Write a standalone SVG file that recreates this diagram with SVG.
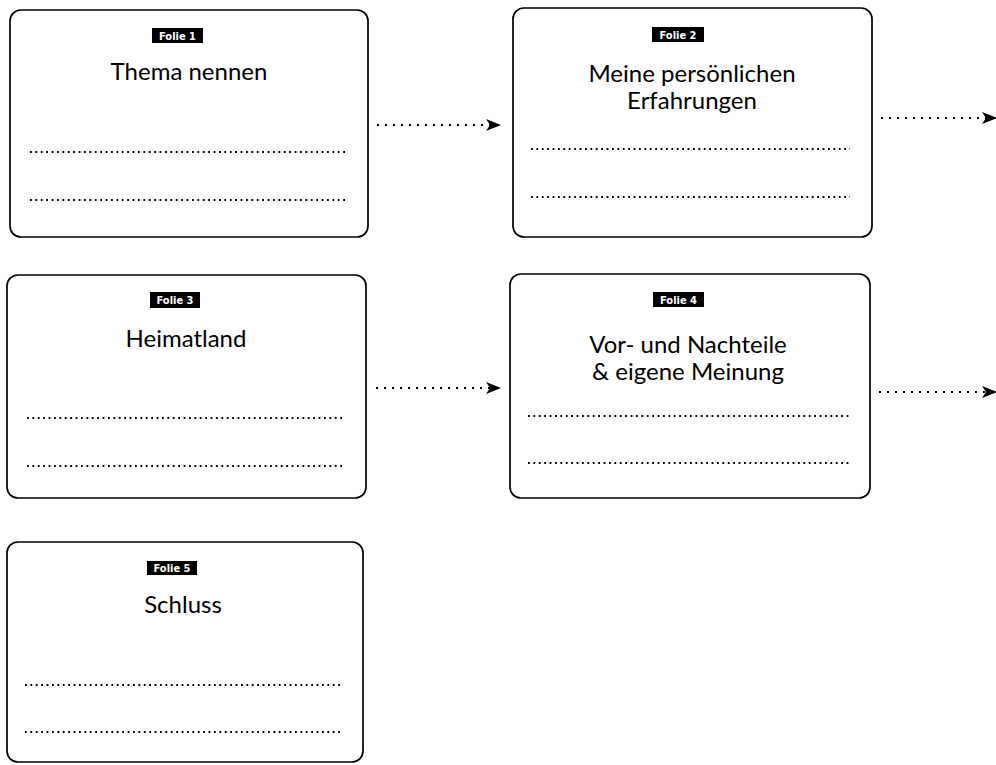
<svg xmlns="http://www.w3.org/2000/svg" width="996" height="765" viewBox="0 0 996 765">
<defs>
<marker id="ah" viewBox="0 0 15 12" refX="14" refY="6" markerWidth="15" markerHeight="12" markerUnits="userSpaceOnUse" orient="auto">
<path d="M0,0 L15,6 L0,12 L4,6 Z" fill="#000"/>
</marker>
<style>
.box{fill:#fff;stroke:#000;stroke-width:1.7}
.badge{fill:#000}
.bt{font-family:"DejaVu Sans Condensed","DejaVu Sans",sans-serif;font-weight:bold;font-size:11px;fill:#fff;text-anchor:middle}
.tt{font-family:Lato,"Open Sans",sans-serif;font-size:24px;fill:#000;text-anchor:middle}
.dl{stroke:#000;stroke-width:1.8;stroke-dasharray:1.8 3.6;fill:none}
.ar{stroke:#000;stroke-width:2;stroke-dasharray:2 6;fill:none}
</style>
</defs>
<g id="folie1">
<rect class="box" x="10" y="10" width="358" height="227" rx="11"/>
<rect class="badge" x="152" y="28" width="51" height="15"/>
<text class="bt" x="177.5" y="40">Folie 1</text>
<text class="tt" x="189" y="80">Thema nennen</text>
<line class="dl" x1="30" y1="152" x2="348" y2="152"/>
<line class="dl" x1="30" y1="200" x2="348" y2="200"/>
</g>
<g id="folie2">
<rect class="box" x="513" y="8" width="359" height="229" rx="11"/>
<rect class="badge" x="652" y="27" width="52" height="15"/>
<text class="bt" x="678" y="39">Folie 2</text>
<text class="tt" x="692" y="82">Meine persönlichen</text>
<text class="tt" x="692" y="109">Erfahrungen</text>
<line class="dl" x1="531" y1="149" x2="850" y2="149"/>
<line class="dl" x1="531" y1="197" x2="850" y2="197"/>
</g>
<g id="folie3">
<rect class="box" x="7" y="275" width="359" height="223" rx="11"/>
<rect class="badge" x="150" y="292" width="50" height="16"/>
<text class="bt" x="175" y="304">Folie 3</text>
<text class="tt" x="186" y="347">Heimatland</text>
<line class="dl" x1="27" y1="418" x2="345" y2="418"/>
<line class="dl" x1="27" y1="466" x2="345" y2="466"/>
</g>
<g id="folie4">
<rect class="box" x="510" y="274" width="360" height="224" rx="11"/>
<rect class="badge" x="653" y="292" width="51" height="15"/>
<text class="bt" x="678.5" y="304">Folie 4</text>
<text class="tt" x="688" y="353">Vor- und Nachteile</text>
<text class="tt" x="688" y="380">&amp; eigene Meinung</text>
<line class="dl" x1="528" y1="416" x2="849" y2="416"/>
<line class="dl" x1="528" y1="463" x2="849" y2="463"/>
</g>
<g id="folie5">
<rect class="box" x="7" y="542" width="356" height="220" rx="11"/>
<rect class="badge" x="147" y="561" width="50" height="14"/>
<text class="bt" x="172" y="572">Folie 5</text>
<text class="tt" x="183" y="613">Schluss</text>
<line class="dl" x1="25" y1="685" x2="343" y2="685"/>
<line class="dl" x1="25" y1="732" x2="343" y2="732"/>
</g>
<g id="connectors">
<line class="ar" x1="377" y1="125" x2="500" y2="125" marker-end="url(#ah)"/>
<line class="ar" x1="881" y1="118" x2="996" y2="118" marker-end="url(#ah)"/>
<line class="ar" x1="376" y1="388" x2="500" y2="388" marker-end="url(#ah)"/>
<line class="ar" x1="879" y1="392" x2="996" y2="392" marker-end="url(#ah)"/>
</g>
</svg>
